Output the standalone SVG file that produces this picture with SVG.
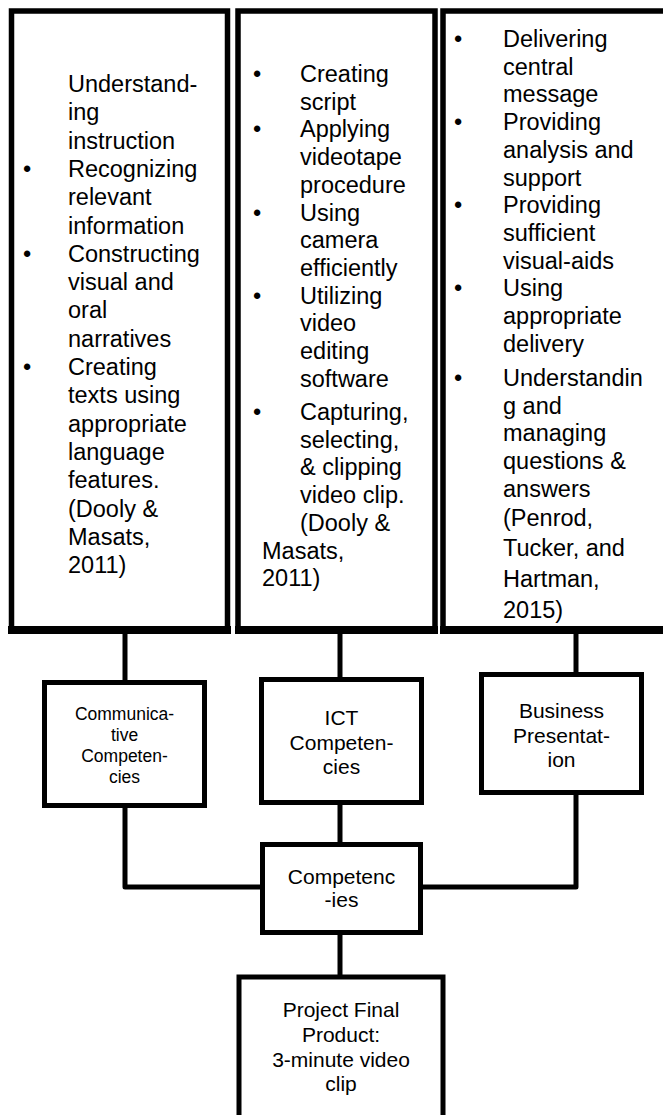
<svg xmlns="http://www.w3.org/2000/svg" width="663" height="1115" viewBox="0 0 663 1115">
<style>
.box{fill:#fff;stroke:#000;stroke-width:5.5}
.sbox{fill:#fff;stroke:#000;stroke-width:5}
.base{stroke:#000;stroke-width:8}
.t{font-family:"Liberation Sans",Arial,sans-serif;font-size:23.5px;fill:#000}
.b{font-family:"Liberation Sans",Arial,sans-serif;font-size:23.5px;fill:#000;text-anchor:middle}
.c{font-family:"Liberation Sans",Arial,sans-serif;font-size:21px;fill:#000;text-anchor:middle}
.cs{font-family:"Liberation Sans",Arial,sans-serif;font-size:17.5px;fill:#000;text-anchor:middle}
.ln{fill:none;stroke:#000;stroke-width:5;stroke-linejoin:round}
</style>
<rect width="663" height="1115" fill="#fff"/>

<g id="connectors">
<line class="ln" x1="125" y1="634" x2="125" y2="683"/>
<line class="ln" x1="340" y1="634" x2="340" y2="679"/>
<line class="ln" x1="576" y1="634" x2="576" y2="674"/>
<polyline class="ln" points="125,805 125,887 262,887"/>
<line class="ln" x1="340" y1="802" x2="340" y2="845"/>
<polyline class="ln" points="576,792 576,887 421,887"/>
<line class="ln" x1="340" y1="932" x2="340" y2="977"/>
</g>

<g id="box-communicative-list">
<rect class="box" x="11.5" y="11" width="216" height="618"/>
<line class="base" x1="8" y1="630" x2="231" y2="630"/>
<text class="t" x="68" y="92">Understand-</text>
<text class="t" x="68" y="120.3">ing</text>
<text class="t" x="68" y="148.6">instruction</text>
<text class="b" x="27" y="176.9">•</text>
<text class="t" x="68" y="176.9">Recognizing</text>
<text class="t" x="68" y="205.2">relevant</text>
<text class="t" x="68" y="233.5">information</text>
<text class="b" x="27" y="261.8">•</text>
<text class="t" x="68" y="261.8">Constructing</text>
<text class="t" x="68" y="290.1">visual and</text>
<text class="t" x="68" y="318.4">oral</text>
<text class="t" x="68" y="346.7">narratives</text>
<text class="b" x="27" y="375">•</text>
<text class="t" x="68" y="375">Creating</text>
<text class="t" x="68" y="403.3">texts using</text>
<text class="t" x="68" y="431.6">appropriate</text>
<text class="t" x="68" y="459.9">language</text>
<text class="t" x="68" y="488.2">features.</text>
<text class="t" x="68" y="516.5">(Dooly &amp;</text>
<text class="t" x="68" y="544.8">Masats,</text>
<text class="t" x="68" y="573.1">2011)</text>
</g>

<g id="box-ict-list">
<rect class="box" x="238" y="11" width="197" height="618"/>
<line class="base" x1="235" y1="630" x2="438" y2="630"/>
<text class="b" x="257" y="82">•</text>
<text class="t" x="300" y="82">Creating</text>
<text class="t" x="300" y="109.7">script</text>
<text class="b" x="257" y="137.4">•</text>
<text class="t" x="300" y="137.4">Applying</text>
<text class="t" x="300" y="165.1">videotape</text>
<text class="t" x="300" y="192.8">procedure</text>
<text class="b" x="257" y="220.5">•</text>
<text class="t" x="300" y="220.5">Using</text>
<text class="t" x="300" y="248.2">camera</text>
<text class="t" x="300" y="275.9">efficiently</text>
<text class="b" x="257" y="303.6">•</text>
<text class="t" x="300" y="303.6">Utilizing</text>
<text class="t" x="300" y="331.3">video</text>
<text class="t" x="300" y="359">editing</text>
<text class="t" x="300" y="386.7">software</text>
<text class="b" x="257" y="420">•</text>
<text class="t" x="300" y="420">Capturing,</text>
<text class="t" x="300" y="447.7">selecting,</text>
<text class="t" x="300" y="475.4">&amp; clipping</text>
<text class="t" x="300" y="503.1">video clip.</text>
<text class="t" x="300" y="530.8">(Dooly &amp;</text>
<text class="t" x="262" y="558.5">Masats,</text>
<text class="t" x="262" y="586.2">2011)</text>
</g>

<g id="box-business-list">
<rect class="box" x="443" y="11" width="260" height="618"/>
<line class="base" x1="440" y1="630" x2="663" y2="630"/>
<text class="b" x="458" y="47">•</text>
<text class="t" x="503" y="47">Delivering</text>
<text class="t" x="503" y="74.7">central</text>
<text class="t" x="503" y="102.4">message</text>
<text class="b" x="458" y="130.1">•</text>
<text class="t" x="503" y="130.1">Providing</text>
<text class="t" x="503" y="157.8">analysis and</text>
<text class="t" x="503" y="185.5">support</text>
<text class="b" x="458" y="213.2">•</text>
<text class="t" x="503" y="213.2">Providing</text>
<text class="t" x="503" y="240.9">sufficient</text>
<text class="t" x="503" y="268.6">visual-aids</text>
<text class="b" x="458" y="296.3">•</text>
<text class="t" x="503" y="296.3">Using</text>
<text class="t" x="503" y="324">appropriate</text>
<text class="t" x="503" y="351.7">delivery</text>
<text class="b" x="458" y="386">•</text>
<text class="t" x="503" y="386">Understandin</text>
<text class="t" x="503" y="413.7">g and</text>
<text class="t" x="503" y="441.4">managing</text>
<text class="t" x="503" y="469.1">questions &amp;</text>
<text class="t" x="503" y="496.8">answers</text>
<text class="t" x="503" y="525.5">(Penrod,</text>
<text class="t" x="503" y="556">Tucker, and</text>
<text class="t" x="503" y="587">Hartman,</text>
<text class="t" x="503" y="618">2015)</text>
</g>

<g id="node-communicative">
<rect class="sbox" x="44.5" y="682.5" width="160" height="123"/>
<text class="cs" x="124.5" y="720">Communica-</text>
<text class="cs" x="124.5" y="741">tive</text>
<text class="cs" x="124.5" y="762">Competen-</text>
<text class="cs" x="124.5" y="783">cies</text>
</g>

<g id="node-ict">
<rect class="sbox" x="261.5" y="679.5" width="160" height="123"/>
<text class="c" x="341.5" y="725">ICT</text>
<text class="c" x="341.5" y="749.5">Competen-</text>
<text class="c" x="341.5" y="774">cies</text>
</g>

<g id="node-business">
<rect class="sbox" x="481.5" y="674.5" width="160" height="118"/>
<text class="c" x="561.5" y="718">Business</text>
<text class="c" x="561.5" y="743">Presentat-</text>
<text class="c" x="561.5" y="767">ion</text>
</g>

<g id="node-competencies">
<rect class="sbox" x="262.5" y="844.5" width="158" height="88"/>
<text class="c" x="341.5" y="884">Competenc</text>
<text class="c" x="341.5" y="907">-ies</text>
</g>

<g id="node-project">
<rect class="sbox" x="239" y="977" width="204" height="160"/>
<text class="c" x="341" y="1017">Project Final</text>
<text class="c" x="341" y="1042">Product:</text>
<text class="c" x="341" y="1067">3-minute video</text>
<text class="c" x="341" y="1091">clip</text>
</g>
</svg>
